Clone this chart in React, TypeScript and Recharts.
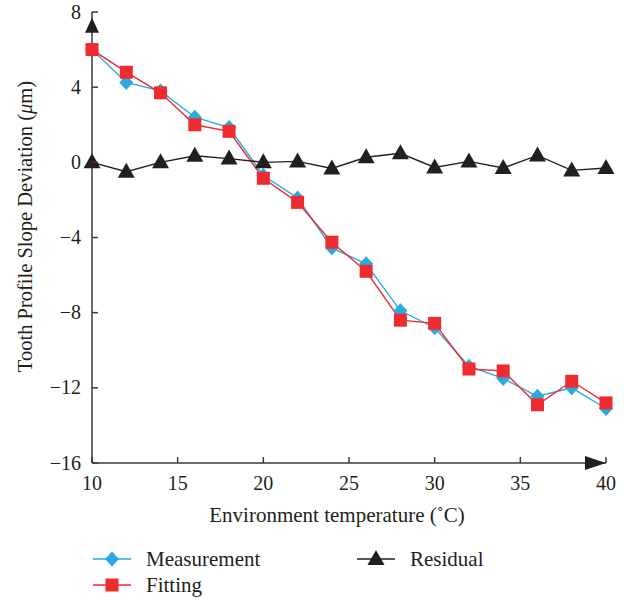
import { LineChart, Line, XAxis, YAxis, ReferenceDot } from 'recharts';

const temperature = [10, 12, 14, 16, 18, 20, 22, 24, 26, 28, 30, 32, 34, 36, 38, 40];
const measurement = [6.0, 4.25, 3.8, 2.4, 1.85, -0.7, -1.9, -4.55, -5.4, -7.9, -8.8, -10.85, -11.5, -12.45, -12.0, -13.1];
const fitting = [6.0, 4.8, 3.7, 2.0, 1.65, -0.85, -2.13, -4.25, -5.8, -8.4, -8.57, -11.0, -11.1, -12.9, -11.65, -12.8];
const residual = [0, -0.5, 0.0, 0.35, 0.2, 0.0, 0.05, -0.33, 0.27, 0.48, -0.27, 0.05, -0.3, 0.37, -0.43, -0.3];

const xTicks = [10, 15, 20, 25, 30, 35, 40];
const yTicks = [-16, -12, -8, -4, 0, 4, 8];

const BLUE = '#2ba8e0';
const RED = '#ee2b2e';
const BLACK = '#231f20';
const AXIS = '#3a3a3a';
const FONT = '"Liberation Serif", "DejaVu Serif", serif';

const data = temperature.map((t, i) => ({
  t,
  measurement: measurement[i],
  fitting: fitting[i],
  residual: residual[i],
}));

// marker shapes, shared by the lines and the legend
const diamondPath = (cx: number, cy: number) =>
  `M${cx},${cy - 7.5}L${cx + 7},${cy}L${cx},${cy + 7.5}L${cx - 7},${cy}Z`;
const squarePath = (cx: number, cy: number) =>
  `M${cx - 6.5},${cy - 6.5}h13v13h-13Z`;
const trianglePath = (cx: number, cy: number) =>
  `M${cx},${cy - 9}L${cx + 8.5},${cy + 6}L${cx - 8.5},${cy + 6}Z`;

const series = [
  { key: 'measurement', name: 'Measurement', color: BLUE, marker: diamondPath },
  { key: 'fitting', name: 'Fitting', color: RED, marker: squarePath },
  { key: 'residual', name: 'Residual', color: BLACK, marker: trianglePath },
];

const makeDot = (marker: (cx: number, cy: number) => string, color: string) => (props: any) => {
  const { cx, cy, index } = props;
  if (cx == null || cy == null) return <g key={`d-${index}`} />;
  return <path key={`d-${index}`} d={marker(cx, cy)} fill={color} />;
};

const fmt = (v: number) => (v < 0 ? `\u2212${Math.abs(v)}` : `${v}`);

const YTick = (props: any) => {
  const { x, y, payload } = props;
  return (
    <g>
      <line x1={x} x2={x + 6} y1={y} y2={y} stroke={AXIS} strokeWidth={1.5} />
      <text x={x - 11} y={y + 6.5} textAnchor="end" fill={BLACK} fontSize={20} fontFamily={FONT}>
        {fmt(payload.value)}
      </text>
    </g>
  );
};

const XTick = (props: any) => {
  const { x, y, payload } = props;
  return (
    <g>
      <line x1={x} x2={x} y1={y} y2={y - 6} stroke={AXIS} strokeWidth={1.5} />
      <text x={x} y={y + 27} textAnchor="middle" fill={BLACK} fontSize={20} fontFamily={FONT}>
        {fmt(payload.value)}
      </text>
    </g>
  );
};

const YLabel = (props: any) => {
  const { viewBox } = props;
  const x = viewBox.x + 32;
  const y = viewBox.y + viewBox.height / 2 - 11;
  return (
    <text x={x} y={y} transform={`rotate(-90 ${x} ${y})`} textAnchor="middle" fill={BLACK} fontSize={20.5} fontFamily={FONT}>
      Tooth Profile Slope Deviation (<tspan fontStyle="italic">μ</tspan>m)
    </text>
  );
};

const XLabel = (props: any) => {
  const { viewBox } = props;
  const x = viewBox.x + viewBox.width / 2 - 12;
  const y = viewBox.y + 59;
  return (
    <text x={x} y={y} textAnchor="middle" fill={BLACK} fontSize={21} fontFamily={FONT}>
      Environment temperature (˚C)
    </text>
  );
};

const UpArrow = (props: any) => {
  const { cx, cy } = props;
  return <path d={`M${cx},${cy}L${cx + 7},${cy + 15}L${cx - 7},${cy + 15}Z`} fill={BLACK} />;
};

const RightArrow = (props: any) => {
  const { cx, cy } = props;
  return <path d={`M${cx},${cy}L${cx - 21},${cy - 7}L${cx - 21},${cy + 7}Z`} fill={BLACK} />;
};

function LegendItem({ s, x, y }: { s: typeof series[number]; x: number; y: number }) {
  return (
    <div style={{ position: 'absolute', left: x, top: y, display: 'flex', alignItems: 'center' }}>
      <svg width={38} height={20}>
        <line x1={0} x2={38} y1={10} y2={10} stroke={s.color} strokeWidth={1.5} />
        <path d={s.marker(19, 10)} fill={s.color} />
      </svg>
      <span style={{ marginLeft: 15, fontSize: 21, fontFamily: FONT, color: BLACK, lineHeight: '20px' }}>{s.name}</span>
    </div>
  );
}

export default function App() {
  return (
    <div style={{ position: 'absolute', left: 0, top: 0, width: 624, height: 601, background: '#fff' }}>
      <LineChart width={624} height={601} data={data} margin={{ top: 12, right: 18, left: 0, bottom: 68 }}>
        <XAxis
          dataKey="t"
          type="number"
          domain={[10, 40]}
          ticks={xTicks}
          height={70}
          tickSize={0}
          tickMargin={0}
          tickLine={false}
          tick={<XTick />}
          axisLine={{ stroke: AXIS, strokeWidth: 1.5 }}
          label={<XLabel />}
        />
        <YAxis
          type="number"
          domain={[-16, 8]}
          ticks={yTicks}
          width={92}
          tickSize={0}
          tickMargin={0}
          tickLine={false}
          tick={<YTick />}
          axisLine={{ stroke: AXIS, strokeWidth: 1.5 }}
          label={<YLabel />}
        />
        {series.map((s) => (
          <Line
            key={s.key}
            dataKey={s.key}
            name={s.name}
            stroke={s.color}
            strokeWidth={1.4}
            dot={makeDot(s.marker, s.color)}
            activeDot={false}
            isAnimationActive={false}
          />
        ))}
        <ReferenceDot x={10} y={7.7} ifOverflow="visible" shape={<UpArrow />} />
        <ReferenceDot x={40} y={-16} ifOverflow="visible" shape={<RightArrow />} />
      </LineChart>
      <LegendItem s={series[0]} x={93} y={549} />
      <LegendItem s={series[1]} x={93} y={575} />
      <LegendItem s={series[2]} x={357} y={549} />
    </div>
  );
}
